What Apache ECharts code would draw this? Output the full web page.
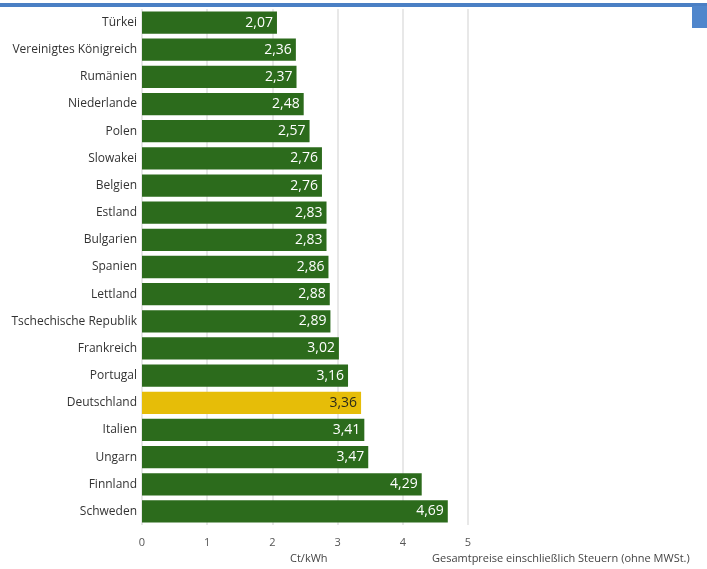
<!DOCTYPE html>
<html>
<head>
<meta charset="utf-8">
<script src="https://cdn.jsdelivr.net/npm/echarts@6/dist/echarts.min.js"></script>
<style>
html,body{margin:0;padding:0;background:#fff;}
#chart{width:707px;height:569px;}
</style>
</head>
<body>
<div id="chart"></div>
<script>
// Strompreise für Industriekunden, Ct/kWh
const categories = [
  'Türkei', 'Vereinigtes Königreich', 'Rumänien', 'Niederlande', 'Polen',
  'Slowakei', 'Belgien', 'Estland', 'Bulgarien', 'Spanien', 'Lettland',
  'Tschechische Republik', 'Frankreich', 'Portugal', 'Deutschland',
  'Italien', 'Ungarn', 'Finnland', 'Schweden'
];
const values = [
  2.07, 2.36, 2.37, 2.48, 2.57, 2.76, 2.76, 2.83, 2.83, 2.86, 2.88,
  2.89, 3.02, 3.16, 3.36, 3.41, 3.47, 4.29, 4.69
];
const highlight = 'Deutschland';
const axisTicks = [0, 1, 2, 3, 4, 5];
const unitLabel = 'Ct/kWh';
const noteLabel = 'Gesamtpreise einschließlich Steuern (ohne MWSt.)';

const GREEN = '#2c6b1c';
const GOLD = '#e6bd08';

const chart = echarts.init(document.getElementById('chart'));
chart.setOption({
  animation: false,
  backgroundColor: '#ffffff',
  grid: { left: 142, right: 239, top: 9, bottom: 44 },
  xAxis: {
    type: 'value',
    min: axisTicks[0],
    max: axisTicks[axisTicks.length - 1],
    interval: 1,
    axisLine: { show: false },
    axisTick: { show: false },
    axisLabel: { color: '#555', fontSize: 11, fontFamily: 'Open Sans', margin: 12 },
    splitLine: { show: true, lineStyle: { color: '#e8e8e8', width: 2 } }
  },
  yAxis: {
    type: 'category',
    data: categories,
    inverse: true,
    axisLine: { show: false },
    axisTick: { show: false },
    axisLabel: { color: '#333', fontSize: 12, fontFamily: 'Open Sans', margin: 5 }
  },
  series: [{
    type: 'bar',
    barCategoryGap: '18%',
    data: categories.map((c, i) => ({
      value: values[i],
      itemStyle: { color: c === highlight ? GOLD : GREEN },
      label: { color: c === highlight ? '#2a2a1a' : '#ffffff' }
    })),
    label: {
      show: true,
      position: 'insideRight',
      distance: 4,
      fontSize: 14,
      fontFamily: 'Open Sans',
      formatter: p => p.value.toFixed(2).replace('.', ',')
    }
  }],
  graphic: [
    { type: 'rect', shape: { x: 0, y: 3, width: 707, height: 4 }, style: { fill: '#4a7fc4' } },
    { type: 'rect', shape: { x: 692, y: 6, width: 15, height: 22 }, style: { fill: '#4f86cc' } },
    { type: 'text', left: 290, top: 553, style: { text: unitLabel, fill: '#444', fontSize: 11, fontFamily: 'Open Sans' } },
    { type: 'text', left: 432, top: 553, style: { text: noteLabel, fill: '#444', fontSize: 11, fontFamily: 'Open Sans' } }
  ]
});
</script>
</body>
</html>
